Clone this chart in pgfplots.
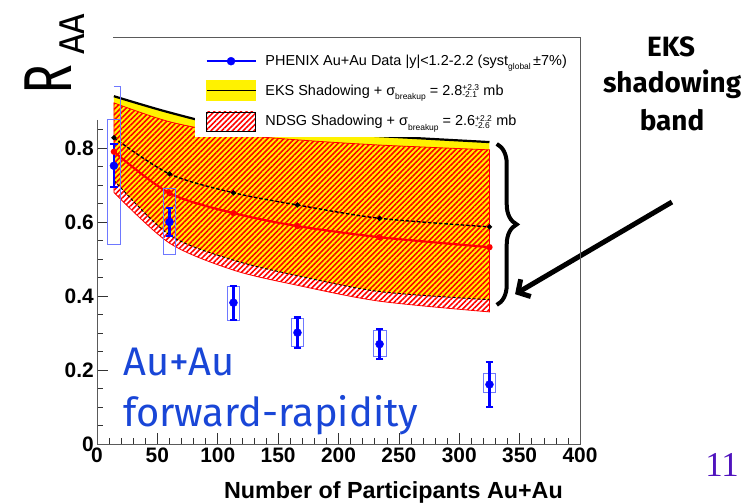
\documentclass[border=0pt]{standalone}
\usepackage{pgfplots}
\pgfplotsset{compat=1.18}
\usepackage{pgfplotstable}
\usepackage{fontspec}
\setmainfont{Liberation Sans}
\newfontfamily\fira{Fira Sans}
\newfontfamily\serifnum{Liberation Serif}
\usepgfplotslibrary{fillbetween}
\usetikzlibrary{patterns.meta,arrows.meta,decorations.pathreplacing}

\definecolor{sysblue}{RGB}{110,120,255}
\definecolor{txtblue}{RGB}{25,70,215}
\definecolor{pagepurple}{RGB}{80,20,190}
\definecolor{framegray}{RGB}{90,90,90}

\pgfplotstableread{
x    eksU   eksL   eksC   ndU    ndL    ndC
14   0.940  0.713  0.828  0.922  0.680  0.790
60   0.896  0.565  0.730  0.871  0.543  0.678
113  0.855  0.497  0.679  0.838  0.470  0.624
166  0.843  0.455  0.646  0.822  0.429  0.589
234  0.832  0.412  0.610  0.808  0.386  0.559
325  0.816  0.390  0.587  0.795  0.357  0.532
}\bands

\pgfplotstableread{
x    y      stat
14   0.752  0.058
60   0.600  0.038
113  0.382  0.046
166  0.301  0.041
234  0.270  0.041
325  0.161  0.060
}\data

\newcommand\lowtxt[1]{\raisebox{-0.55ex}{\fontsize{8.5}{9}\selectfont #1}}
\newcommand\supsub[2]{{\fontsize{8.5}{9}\selectfont\makebox[0pt][l]{\raisebox{1.1ex}{#1}}\raisebox{-0.6ex}{#2}}}

\begin{document}
\begin{tikzpicture}
\begin{axis}[
  scale only axis, width=483bp, height=407bp,
  xmin=0, xmax=400, ymin=0, ymax=1.1,
  clip=false,
  axis line style={draw=none},
  tick align=inside, xtick pos=left, ytick pos=left,
  xtick={0,50,...,400}, minor x tick num=4,
  ytick={0,0.2,0.4,0.6,0.8},
  minor ytick={0.05,0.1,0.15,0.25,0.3,0.35,0.45,0.5,0.55,0.65,0.7,0.75,0.85},
  major tick length=11bp, minor tick length=6bp,
  every tick/.style={black!80, line width=0.6bp},
  ticklabel style={font=\fontsize{21}{21}\selectfont\bfseries},
  /pgf/number format/assume math mode=true,
  yticklabel style={/pgf/number format/fixed, /pgf/number format/precision=1, inner xsep=3bp},
  xlabel={Number of Participants Au+Au},
  xlabel style={at={(axis description cs:0.9648,-0.1336)}, anchor=base east,
    font=\fontsize{23.4}{24}\selectfont\bfseries, inner sep=0pt},
  legend style={at={(1,1)}, anchor=north east, yshift=-10bp, draw=none, fill=white,
    font=\fontsize{14.5}{17}\selectfont, inner xsep=11bp, inner ysep=6bp,
    row sep=11bp, nodes={inner sep=2bp},
    /tikz/every odd column/.append style={column sep=7bp}},
  legend cell align=left,
]
\coordinate (c0) at (axis cs:0,0);
\coordinate (cyl) at (axis cs:0,0.876);
\coordinate (cx1) at (axis cs:400,0);
\coordinate (ctr) at (axis cs:400,1.1);
\coordinate (ctl) at (axis cs:13,1.1);
\coordinate (bbl) at (axis cs:-80.33,-0.1595);
\coordinate (btr) at (axis cs:536.6,1.2);

% band boundaries (named paths)
\addplot[draw=none, smooth, name path=eksU, forget plot] table[x=x,y=eksU]{\bands};
\addplot[draw=none, smooth, name path=eksL, forget plot] table[x=x,y=eksL]{\bands};
\addplot[draw=none, smooth, name path=ndU, forget plot] table[x=x,y=ndU]{\bands};
\addplot[draw=none, smooth, name path=ndL, forget plot] table[x=x,y=ndL]{\bands};

\addplot[fill=yellow, draw=none, forget plot] fill between[of=eksU and eksL];
\addplot[pattern={Lines[angle=45,distance=3.8bp,line width=1.6bp]}, pattern color=red,
  draw=red, line width=0.8bp, forget plot] fill between[of=ndU and ndL];

% band lines
\addplot[black, line width=2.2bp, smooth, forget plot] table[x=x,y=eksU]{\bands};
\addplot[black, line width=0.9bp, dash pattern=on 3bp off 2bp, smooth, forget plot] table[x=x,y=eksL]{\bands};
\addplot[black, line width=1.4bp, dash pattern=on 3.5bp off 2bp, smooth, mark=*, mark size=1.8bp,
  mark options={solid}, forget plot] table[x=x,y=eksC]{\bands};
\addplot[red, line width=2.2bp, smooth, mark=*, mark size=2bp, forget plot] table[x=x,y=ndC]{\bands};

% systematic boxes
\addplot[sysblue, line width=0.9bp, forget plot] coordinates {(8.3,0.54) (19,0.54) (19,0.876) (8.3,0.876) (8.3,0.54)};
\addplot[sysblue, line width=0.9bp, forget plot] coordinates {(14,0.965) (19,0.965) (19,0.876)};
\addplot[sysblue, line width=0.9bp, forget plot] coordinates {(54.7,0.513) (65.3,0.513) (65.3,0.69) (54.7,0.69) (54.7,0.513)};
\addplot[sysblue, line width=0.9bp, forget plot] coordinates {(107.7,0.333) (118.3,0.333) (118.3,0.427) (107.7,0.427) (107.7,0.333)};
\addplot[sysblue, line width=0.9bp, forget plot] coordinates {(160.7,0.263) (171.3,0.263) (171.3,0.339) (160.7,0.339) (160.7,0.263)};
\addplot[sysblue, line width=0.9bp, forget plot] coordinates {(228.7,0.238) (239.3,0.238) (239.3,0.308) (228.7,0.308) (228.7,0.238)};
\addplot[sysblue, line width=0.9bp, forget plot] coordinates {(319.7,0.140) (330.3,0.140) (330.3,0.192) (319.7,0.192) (319.7,0.140)};

% data
\addplot[blue, only marks, mark=*, mark size=4bp, forget plot,
  error bars/y dir=both, error bars/y explicit,
  error bars/error bar style={line width=2.5bp, blue, solid},
  error bars/error mark options={rotate=90, mark size=3.8bp, line width=2.2bp, blue}]
  table[x=x, y=y, y error=stat]{\data};

% legend
\addlegendimage{legend image code/.code={
  \draw[blue, line width=1.8bp] (0bp,0bp) -- (49bp,0bp);
  \fill[blue] (24.5bp,0bp) circle (4bp);}}
\addlegendentry{PHENIX Au+Au Data |y|<1.2-2.2 (syst\lowtxt{global}\,±7\%)}
\addlegendimage{legend image code/.code={
  \fill[yellow] (0bp,-10bp) rectangle (49bp,10bp);
  \draw[black, line width=1.5bp] (0bp,0bp) -- (49bp,0bp);}}
\addlegendentry{EKS Shadowing + σ\lowtxt{breakup} = 2.8\supsub{+2.3}{-2.1}\hspace{0.45em}mb}
\addlegendimage{legend image code/.code={
  \fill[pattern={Lines[angle=45,distance=3.8bp,line width=1.6bp]}, pattern color=red] (0bp,-9.5bp) rectangle (49bp,9.5bp);}}
\addlegendentry{NDSG Shadowing + σ\lowtxt{breakup} = 2.6\supsub{+2.2}{-2.6}\hspace{0.45em}mb}

% annotations
\node[anchor=base west, font=\fira\fontsize{40}{40}\selectfont, text=txtblue, inner sep=0pt] at (axis cs:21.5,0.186) {Au+Au};
\node[anchor=base west, font=\fira\fontsize{40}{40}\selectfont, text=txtblue, inner sep=0pt] at (axis cs:21.5,0.047) {forward-rapidity};

\node[anchor=base, font=\fira\bfseries\fontsize{28}{28}\selectfont, inner sep=0pt] at (axis cs:475.4,1.046) {EKS};
\node[anchor=base, font=\fira\bfseries\fontsize{28}{28}\selectfont, inner sep=0pt] at (axis cs:476.2,0.949) {shadowing};
\node[anchor=base, font=\fira\bfseries\fontsize{28}{28}\selectfont, inner sep=0pt] at (axis cs:476.2,0.846) {band};

\node[font=\fira\fontsize{68}{68}\selectfont, inner sep=0pt] at (axis cs:-40.2,0.984) {\rotatebox{90}{\scalebox{0.73}[1]{R}}};
\node[font=\fira\fontsize{36}{36}\selectfont, inner sep=0pt] at (axis cs:-20.3,1.108) {\rotatebox{90}{AA}};

\draw[decorate, decoration={brace, amplitude=20bp}, line width=4bp] (axis cs:331,0.811) -- (axis cs:331,0.376);
\draw[line width=5bp, -{Straight Barb[length=9bp, width=20bp]}] (axis cs:476.1,0.654) -- (axis cs:346.2,0.405);

\node[anchor=base, font=\serifnum\fontsize{35}{35}\selectfont, text=pagepurple, inner sep=0pt] at (axis cs:517.6,-0.089) {11};
\end{axis}
\draw[framegray, line width=0.8bp] (cyl) -- (c0) -- (cx1) -- (ctr) -- (ctl);
\pgfresetboundingbox
\path[use as bounding box] (bbl) rectangle (btr);
\end{tikzpicture}
\end{document}
